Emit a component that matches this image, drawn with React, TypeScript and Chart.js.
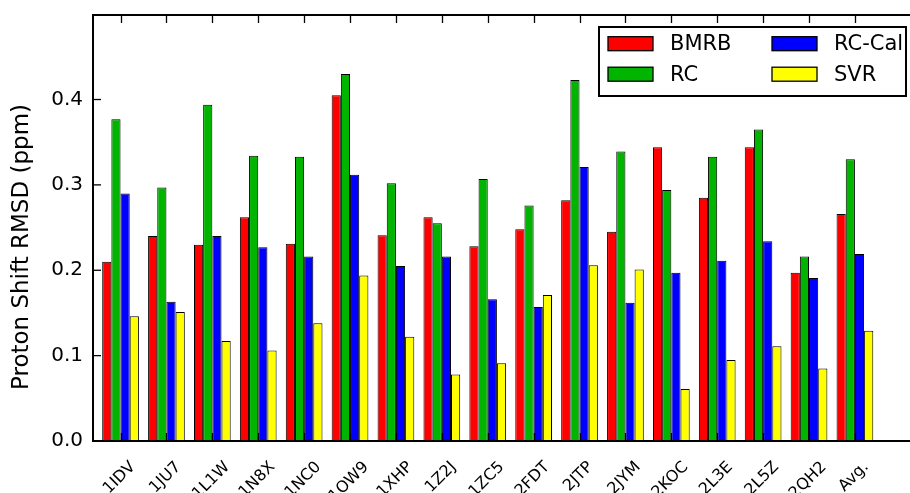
import React, { useEffect, useRef } from 'react';
import { Chart, registerables } from 'chart.js';

Chart.register(...registerables);

const categories = ['1IDV', '1JU7', '1L1W', '1N8X', '1NC0', '1OW9', '1XHP', '1Z2J', '1ZC5', '2FDT', '2JTP', '2JYM', '2KOC', '2L3E', '2L5Z', '2QH2', 'Avg.'];
const bmrb = [0.210, 0.240, 0.230, 0.262, 0.231, 0.405, 0.241, 0.262, 0.228, 0.248, 0.282, 0.245, 0.344, 0.285, 0.344, 0.197, 0.266];
const rc = [0.377, 0.297, 0.394, 0.334, 0.333, 0.430, 0.302, 0.255, 0.307, 0.276, 0.423, 0.339, 0.294, 0.333, 0.365, 0.216, 0.330];
const rcCal = [0.290, 0.163, 0.240, 0.227, 0.216, 0.312, 0.205, 0.216, 0.166, 0.157, 0.321, 0.162, 0.197, 0.211, 0.234, 0.191, 0.219];
const svr = [0.146, 0.151, 0.117, 0.106, 0.138, 0.194, 0.122, 0.078, 0.091, 0.171, 0.206, 0.201, 0.061, 0.095, 0.111, 0.085, 0.129];
const yTicks = [0.0, 0.1, 0.2, 0.3, 0.4];

const seriesNames = ['BMRB', 'RC', 'RC-Cal', 'SVR'];
const seriesColors = ['#ff0000', '#00b400', '#0000ff', '#ffff00'];
const seriesValues = [bmrb, rc, rcCal, svr];
const yTitle = 'Proton Shift RMSD (ppm)';

const FONT = "'DejaVu Sans', sans-serif";

const decorPlugin = {
  id: 'decor',
  afterDraw(chart: any) {
    const { ctx, chartArea: a, scales } = chart;
    const xs = scales.x;
    const ys = scales.y;
    ctx.save();
    ctx.strokeStyle = '#000';
    ctx.fillStyle = '#000';

    // inward tick marks
    ctx.lineWidth = 1.3;
    categories.forEach((_, i) => {
      const px = Math.round(xs.getPixelForValue(i)) + 0.5;
      ctx.beginPath();
      ctx.moveTo(px, a.bottom);
      ctx.lineTo(px, a.bottom - 8);
      ctx.moveTo(px, a.top);
      ctx.lineTo(px, a.top + 8);
      ctx.stroke();
    });
    yTicks.forEach((v) => {
      const py = ys.getPixelForValue(v);
      ctx.beginPath();
      ctx.moveTo(a.left, py);
      ctx.lineTo(a.left + 8, py);
      ctx.stroke();
    });

    // spines
    ctx.lineWidth = 2;
    ctx.beginPath();
    ctx.moveTo(a.right + 5, a.top);
    ctx.lineTo(a.left, a.top);
    ctx.lineTo(a.left, a.bottom);
    ctx.lineTo(a.right + 5, a.bottom);
    ctx.stroke();

    // x tick labels, rotated 45 degrees, bbox centred on tick
    ctx.font = `16px ${FONT}`;
    ctx.textAlign = 'center';
    ctx.textBaseline = 'middle';
    categories.forEach((lab, i) => {
      const px = xs.getPixelForValue(i);
      const w = ctx.measureText(lab).width;
      const h = 16 * 1.16;
      const s = (w + h) * Math.SQRT1_2;
      ctx.save();
      ctx.translate(px - 1, a.bottom + 17 + s / 2);
      ctx.rotate(-Math.PI / 4);
      ctx.fillText(lab, 0, 0);
      ctx.restore();
    });

    // y title
    ctx.save();
    ctx.font = `23px ${FONT}`;
    ctx.translate(22.5, 247);
    ctx.rotate(-Math.PI / 2);
    ctx.fillText(yTitle, 0, 0);
    ctx.restore();

    // legend (two columns, filled column-wise)
    const bx = 599, by = 27, bw = 307, bh = 69;
    ctx.fillStyle = '#fff';
    ctx.fillRect(bx, by, bw, bh);
    ctx.lineWidth = 2;
    ctx.strokeRect(bx, by, bw, bh);
    ctx.font = `21px ${FONT}`;
    ctx.textAlign = 'left';
    ctx.textBaseline = 'middle';
    const colX = [608, 772];
    const rowY = [43.7, 74.2];
    chart.data.datasets.forEach((ds: any, k: number) => {
      const col = Math.floor(k / 2);
      const row = k % 2;
      const sx = colX[col];
      const sy = rowY[row];
      ctx.fillStyle = ds.backgroundColor;
      ctx.fillRect(sx, sy - 7, 45, 14);
      ctx.lineWidth = 1.3;
      ctx.strokeStyle = '#000';
      ctx.strokeRect(sx, sy - 7, 45, 14);
      ctx.fillStyle = '#000';
      ctx.fillText(ds.label, sx + 62, sy + 1);
    });
    ctx.restore();
  },
};

export default function App() {
  const canvasRef = useRef<HTMLCanvasElement | null>(null);

  useEffect(() => {
    if (!canvasRef.current) return;
    const datasets = seriesNames.map((name, k) => ({
      label: name,
      data: categories.map((_, i) => ({ x: i, y: seriesValues[k][i] })),
      backgroundColor: seriesColors[k],
      borderColor: '#000',
      borderWidth: 1,
      borderSkipped: false,
      categoryPercentage: 0.8,
      barPercentage: 1.0,
    }));
    const chart = new Chart(canvasRef.current, {
      type: 'bar',
      data: { datasets },
      plugins: [decorPlugin],
      options: {
        animation: false,
        responsive: false,
        devicePixelRatio: 1,
        layout: { padding: { top: 15, right: 0, left: 0, bottom: 0 } },
        plugins: { legend: { display: false }, tooltip: { enabled: false } },
        scales: {
          x: {
            type: 'linear',
            min: -0.6,
            max: 17.2,
            offset: false,
            grid: { display: false, drawTicks: false },
            border: { display: false },
            ticks: { display: false },
            afterBuildTicks: (s: any) => {
              s.ticks = categories.map((_, i) => ({ value: i }));
            },
            afterFit: (s: any) => {
              s.height = 52;
              s.paddingLeft = 0;
              s.paddingRight = 0;
              s.paddingTop = 0;
              s.paddingBottom = 0;
            },
          },
          y: {
            type: 'linear',
            min: 0,
            max: 0.499,
            grid: { display: false, drawTicks: false },
            border: { display: false },
            ticks: {
              color: '#000',
              padding: 10,
              font: { family: FONT, size: 20 },
              callback: (v: any) => Number(v).toFixed(1),
            },
            afterBuildTicks: (s: any) => {
              s.ticks = yTicks.map((v) => ({ value: v }));
            },
            afterFit: (s: any) => {
              s.width = 93;
              s.paddingTop = 0;
              s.paddingBottom = 0;
              s.paddingLeft = 0;
              s.paddingRight = 0;
            },
          },
        },
      } as any,
    });
    return () => chart.destroy();
  }, []);

  return (
    <div style={{ position: 'absolute', left: 0, top: 0, width: 910, height: 493, background: '#fff' }}>
      <canvas ref={canvasRef} width={910} height={493} style={{ display: 'block' }} />
    </div>
  );
}
